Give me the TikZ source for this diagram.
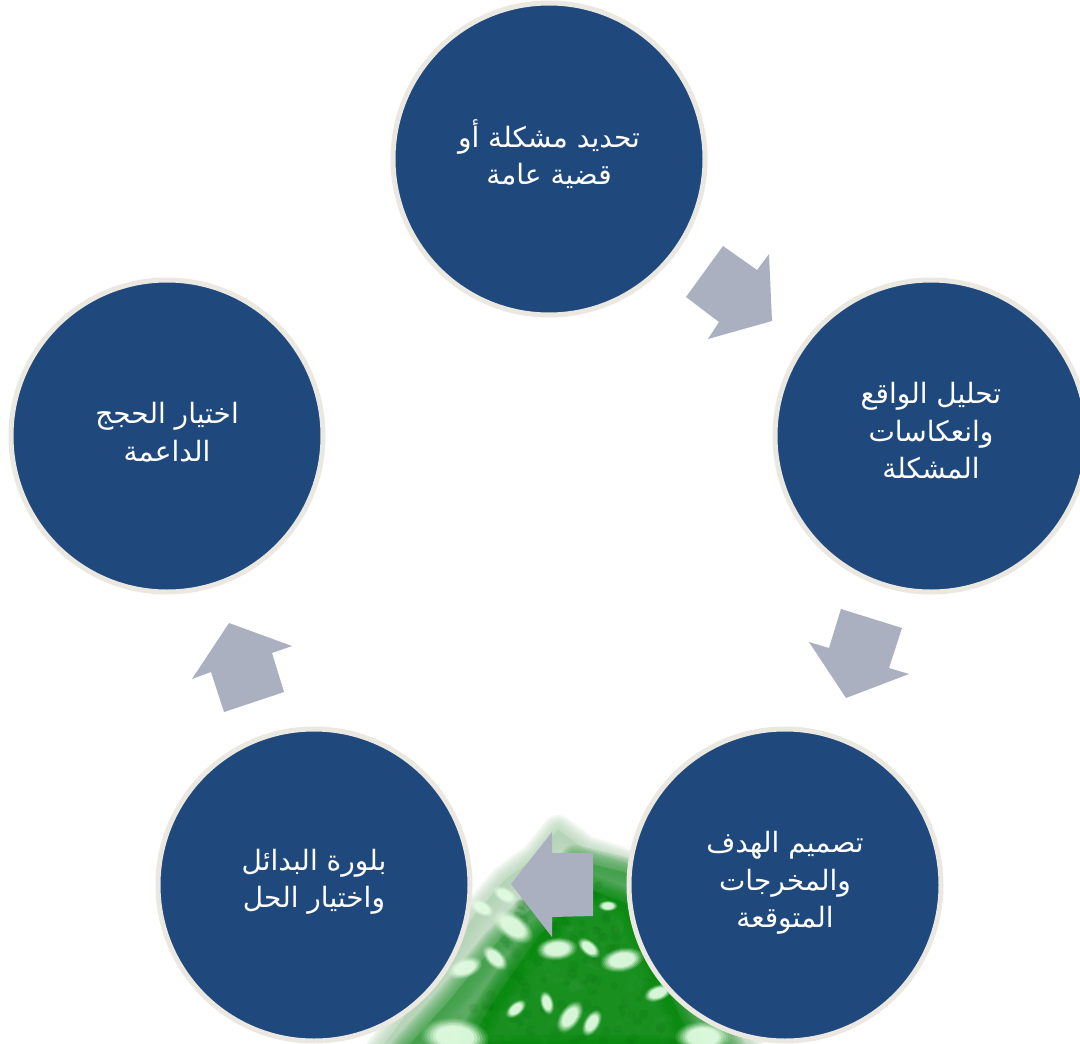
\documentclass[tikz,border=0pt]{standalone}
\usepackage{fontspec}
\setmainfont{DejaVu Sans}
\newfontfamily\arabicfont[Script=Arabic]{DejaVu Sans}
\TeXXeTstate=1
\definecolor{discblue}{HTML}{1F497D}
\definecolor{discring}{HTML}{EAE8E0}
\definecolor{arrowgrey}{HTML}{AAB0BF}
\definecolor{treecore}{HTML}{078A0E}
\definecolor{treemid}{HTML}{3FA048}
\definecolor{treepale}{HTML}{B4D4B6}
\definecolor{fleck}{HTML}{E2FCE2}
\tikzset{
  disc/.style={circle,fill=discblue,draw=discring,line width=5pt,minimum size=312pt,inner sep=0pt},
  disclabel/.style={inner sep=0pt,text=white,align=center,font=\arabicfont\fontsize{28}{37.5}\selectfont},
  blockarrow/.style={fill=arrowgrey,draw=none},
}
\newcommand{\softshape}[2]{%
  \foreach \w in {30,26,22,18,14,10,6,2}{\path[fill=#1,draw=#1,line width=\w pt,line join=round,opacity=.17] #2;}}
\newcommand{\flk}[4]{% x y rotation size
  \foreach \k/\o in {1.2/.12,1.1/.18,1/.25,.9/.35,.8/.5,.7/.7}{\fill[fleck,opacity=\o,rotate around={#3:(#1,#2)}] (#1,#2) ellipse ({#4*\k} and {#4*\k*.55});}}
\begin{document}
\begin{tikzpicture}[x=1pt,y=-1pt]
\useasboundingbox (0,0) rectangle (1080,1044);
\fill[white] (0,0) rectangle (1080,1044);
\begin{scope}
\clip (0,0) rectangle (1080,1044);
% tree
\softshape{treepale}{(558,830) -- (585,850) -- (640,868) -- (705,985) -- (750,1050) -- (380,1050) -- (425,990) -- (475,915) -- (505,880) -- (535,858) -- cycle}
\softshape{treemid}{(575,860) -- (635,875) -- (680,960) -- (730,1050) -- (405,1050) -- (450,1000) -- (495,945) -- (545,895) -- cycle}
\softshape{treecore}{(590,890) -- (630,905) -- (665,985) -- (695,1050) -- (465,1050) -- (495,1000) -- (540,935) -- cycle}
\pgfmathsetseed{11}
\foreach \i in {1,...,240}{
  \pgfmathsetmacro{\ty}{955+rand*90}
  \pgfmathsetmacro{\hw}{(\ty-830)*0.62}
  \pgfmathsetmacro{\tx}{565+rand*\hw}
  \pgfmathsetmacro{\sz}{3+abs(rand)*3}
  \ifodd\i
    \fill[treecore!75!black,opacity=.12] (\tx,\ty) circle (\sz);
  \else
    \fill[treemid,opacity=.12] (\tx,\ty) circle (\sz);
  \fi
}
\flk{608}{906}{0}{8}
\flk{513}{927}{-35}{19}
\flk{495}{958}{-45}{13}
\flk{465}{968}{20}{15}
\flk{557}{949}{5}{17}
\flk{589}{948}{-40}{11}
\flk{622}{960}{10}{18}
\flk{658}{993}{20}{12}
\flk{516}{1009}{40}{10}
\flk{547}{1003}{-75}{10}
\flk{570}{1017}{55}{15}
\flk{592}{1023}{60}{12}
\flk{455}{1037}{-5}{28}
\flk{703}{1037}{0}{23}
\flk{505}{895}{-30}{11}
\flk{482}{908}{-30}{11}
\end{scope}
% block arrows
\fill[blockarrow] (723,246) -- (757,270) -- (769,254) -- (772,321) -- (708,339) -- (719,322) -- (686,297) -- cycle;
\fill[blockarrow] (841,609) -- (902,628) -- (889,668) -- (909,674) -- (846,698) -- (809,642) -- (829,648) -- cycle;
\fill[blockarrow] (593,853) -- (593,916) -- (552,917) -- (552,937) -- (511,884) -- (552,832) -- (552,853) -- cycle;
\fill[blockarrow] (284,692) -- (224,712) -- (211,672) -- (192,679) -- (229,623) -- (292,646) -- (272,653) -- cycle;
% discs
\node[disc] (d1) at (549,159) {};
\node[disc] (d2) at (931,436) {};
\node[disc] (d3) at (785,885) {};
\node[disc] (d4) at (314,885) {};
\node[disc] (d5) at (167,436) {};
\node[disclabel] (t1) at ([yshift=5pt]d1.center) {\beginR تحديد مشكلة أو\endR\\\beginR قضية عامة\endR};
\node[disclabel] (t2) at ([yshift=5pt]d2.center) {\beginR تحليل الواقع\endR\\\beginR وانعكاسات\endR\\\beginR المشكلة\endR};
\node[disclabel] (t3) at ([yshift=2pt]d3.center) {\beginR تصميم الهدف\endR\\\beginR والمخرجات\endR\\\beginR المتوقعة\endR};
\node[disclabel] (t4) at ([yshift=3pt]d4.center) {\beginR بلورة البدائل\endR\\\beginR واختيار الحل\endR};
\node[disclabel] (t5) at ([yshift=4pt]d5.center) {\beginR اختيار الحجج\endR\\\beginR الداعمة\endR};
\end{tikzpicture}
\end{document}
